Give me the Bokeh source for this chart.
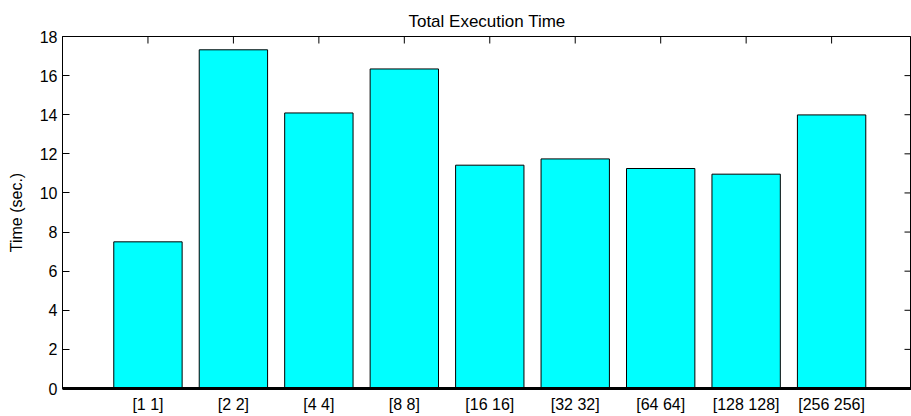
import math
from bokeh.plotting import figure
from bokeh.models import Range1d, FixedTicker
from bokeh.embed import file_html
from bokeh.resources import INLINE

categories = ["[1 1]", "[2 2]", "[4 4]", "[8 8]", "[16 16]", "[32 32]", "[64 64]", "[128 128]", "[256 256]"]
times = [7.50, 17.32, 14.09, 16.34, 11.42, 11.74, 11.25, 10.96, 13.99]
y_ticks = [0, 2, 4, 6, 8, 10, 12, 14, 16, 18]

positions = list(range(1, len(categories) + 1))
FONT = "Liberation Sans"
X_END = 9.935
Y_END = 18

p = figure(width=911, height=416, output_backend="svg", toolbar_location=None,
           x_range=Range1d(0, X_END), y_range=Range1d(0, Y_END),
           min_border_left=62, min_border_right=0, min_border_top=36, min_border_bottom=28,
           title="Total Execution Time")

p.vbar(x=positions, top=times, width=0.8, bottom=0,
       fill_color="#00FFFF", line_color="black", line_width=1)

# inward tick marks on the top and right edges (MATLAB box style)
p.ray(x=positions, y=[Y_END] * len(positions), length=7, length_units="screen",
      angle=-math.pi / 2, line_color="black", line_width=1)
p.ray(x=[X_END] * len(y_ticks), y=y_ticks, length=7, length_units="screen",
      angle=math.pi, line_color="black", line_width=1)

p.title.align = "center"
p.title.text_font = FONT
p.title.text_font_size = "17px"
p.title.text_font_style = "normal"
p.title.text_color = "black"
p.title.standoff = 11
p.title.offset = 0

p.xgrid.visible = False
p.ygrid.visible = False
p.outline_line_color = "black"
p.outline_line_width = 1

# bottom axis
xa = p.xaxis[0]
xa.ticker = FixedTicker(ticks=positions)
xa.major_label_overrides = {i: c for i, c in zip(positions, categories)}
xa.major_tick_in = 0
xa.major_tick_out = 0
xa.minor_tick_line_color = None
xa.axis_line_width = 3
xa.axis_line_color = "black"
xa.major_label_text_font = FONT
xa.major_label_text_font_size = "16px"
xa.major_label_text_color = "black"
xa.major_label_standoff = 7

# left axis
ya = p.yaxis[0]
ya.ticker = FixedTicker(ticks=y_ticks)
ya.major_tick_in = 7
ya.major_tick_out = 0
ya.minor_tick_line_color = None
ya.axis_line_color = "black"
ya.major_label_text_font = FONT
ya.major_label_text_font_size = "16px"
ya.major_label_text_color = "black"
ya.major_label_standoff = 5
ya.axis_label = "Time (sec.)"
ya.axis_label_text_font = FONT
ya.axis_label_text_font_size = "16px"
ya.axis_label_text_font_style = "normal"
ya.axis_label_text_color = "black"
ya.axis_label_standoff = 12

open("out.html", "w").write(file_html(p, INLINE))
